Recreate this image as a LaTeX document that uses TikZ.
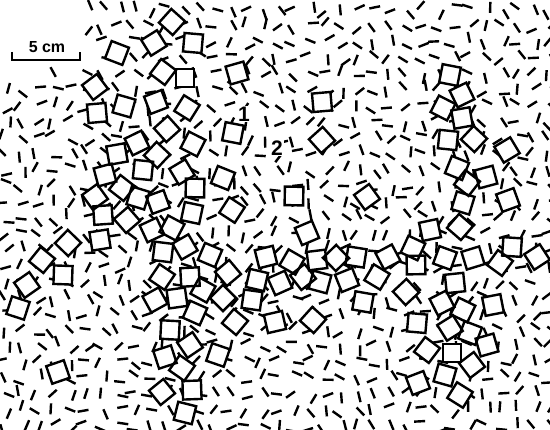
\documentclass[tikz,border=0pt]{standalone}
\usepackage{fontspec}
\setmainfont{Liberation Sans}
\begin{document}
\begin{tikzpicture}[x=1pt,y=-1pt,
  dashline/.style={line width=2.4pt},
  sqfill/.style={shape=rectangle, fill=white, minimum size=18.5pt, inner sep=0pt},
  sqline/.style={shape=rectangle, draw=black, line width=2.4pt, minimum size=18.5pt, inner sep=0pt},
  lbl/.style={font=\fontsize{21}{21}\selectfont\bfseries, inner sep=0pt},
  barline/.style={line width=2.2pt}]
\fill[white] (0,0) rectangle (550,430);
\useasboundingbox (0,0) rectangle (550,430);
% random field of short line segments
\pgfmathsetseed{12345}
\foreach \i in {0,...,34}{
  \foreach \j in {0,...,27}{
    \pgfmathsetmacro\px{\i*16+6+5*rand}
    \pgfmathsetmacro\py{\j*16+10+5*rand}
    \pgfmathsetmacro\ang{180*rnd}
    \pgfmathtruncatemacro\hide{and(\px<88,\py<72)}
    \ifnum\hide=0
      \draw[dashline] (\px,\py) ++(\ang:5.5) -- ++(\ang+180:11);
    \fi
  }
}
% squares
\def\sqlist{172/22, 193/43, 154/43, 117/53, 237/73, 163/72, 185/78, 95/87,
124/106, 156/102, 187/108, 97/113, 167/129, 233/133, 137/143, 193/144,
117/154, 157/155, 143/170, 182/172, 223/178, 105/175, 122/188, 195/188,
95/197, 138/198, 158/202, 232/210, 103/215, 127/220, 192/213, 152/230,
172/228, 100/240, 68/243, 163/252, 185/247, 210/255, 266/257,
42/260, 63/275, 27/285, 18/308, 58/372,
162/277, 190/277, 228/273, 257/280, 280/283, 203/290, 177/298, 223/298,
252/300, 155/300, 195/313, 275/322, 235/322, 170/330, 190/345, 218/355,
165/357, 182/368, 192/390, 162/392, 185/413,
307/233, 292/262, 317/260, 336/258, 356/257, 388/257, 413/248, 430/230,
460/227, 512/247, 537/257, 445/258, 473/258, 500/263, 416/265, 303/277,
320/282, 347/280, 377/277, 455/283, 406/292, 363/302, 442/303, 463/310,
493/305, 313/320, 417/323, 450/328, 470/333, 487/345, 427/350, 452/353,
472/365, 445/375, 418/383, 460/395,
322/102, 322/140, 450/75, 462/95, 443/108, 462/118, 474/139, 448/140,
507/150, 457/168, 486/177, 467/183, 294/196, 367/197, 463/203, 508/200}
\foreach \x/\y [count=\n] in \sqlist {
  \pgfmathtruncatemacro\a{mod(\n*37+11,90)}
  \node[sqfill, rotate=\a] (f\n) at (\x,\y) {};
}
\foreach \x/\y [count=\n] in \sqlist {
  \pgfmathtruncatemacro\a{mod(\n*37+11,90)}
  \node[sqline, rotate=\a] (s\n) at (\x,\y) {};
}
% labels
\node[lbl, fill=white, inner sep=1pt] (one) at (244,114) {1};
\node[lbl, fill=white, inner sep=1pt] (two) at (277,148) {2};
% scale bar
\coordinate (sbL) at (12,60);
\coordinate (sbR) at (80,60);
\draw[barline] (sbL) ++(0,-8) -- (sbL) -- (sbR) -- ++(0,-8);
\node[font=\fontsize{16}{16}\selectfont\bfseries, inner sep=0pt] (scale) at (47,47) {5 cm};
\end{tikzpicture}
\end{document}
